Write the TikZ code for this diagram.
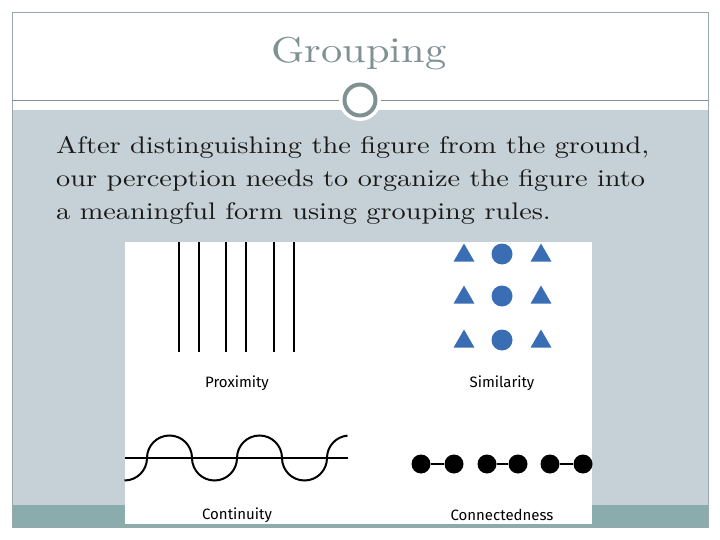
\documentclass[tikz,border=0pt]{standalone}
\usepackage{fontspec}
\newfontfamily\capfont{Fira Sans}
\newfontfamily\bodyfont{lmroman10-regular.otf}[FakeStretch=1.18]
\usetikzlibrary{positioning,shapes.geometric}

\definecolor{bandgray}{RGB}{197,209,214}
\definecolor{footteal}{RGB}{138,172,172}
\definecolor{titlegray}{RGB}{127,145,147}
\definecolor{shapeblue}{RGB}{58,110,180}

\begin{document}
\begin{tikzpicture}[
  x=1pt,y=-1pt,
  every node/.style={inner sep=0pt},
  caption/.style={font=\capfont\fontsize{15}{17}\selectfont},
  bodyline/.style={anchor=base west,text=black!90,
                   font=\bodyfont\fontsize{24}{28}\selectfont},
  tri/.style={regular polygon,regular polygon sides=3,fill=shapeblue,
              minimum size=24pt},
  blob/.style={circle,fill=shapeblue,minimum size=21pt},
  bead/.style={circle,fill=black,minimum size=19pt},
  stroke/.style={line width=2pt,black}
]
\useasboundingbox (0,0) rectangle (720,540);
\fill[white] (0,0) rectangle (720,540);

% slide frame
\fill[bandgray] (12,110) rectangle (708,505);
\fill[footteal] (12,505) rectangle (708,527);
\draw[titlegray!80,line width=0.8pt] (12,12) rectangle (708,527);
\draw[titlegray,line width=0.8pt] (12,100) -- (708,100);
\fill[white] (360,100) circle (21);
\draw[titlegray,line width=4pt] (360,100) circle (15.5);

\node[anchor=base,text=titlegray,font=\bodyfont\fontsize{36}{40}\selectfont]
  (title) at (359,63) {Grouping};
\node[bodyline] (body1) at (56,154)
  {After distinguishing the figure from the ground,};
\node[bodyline] (body2) at (56,187)
  {our perception needs to organize the figure into};
\node[bodyline] (body3) at (56,220)
  {a meaningful form using grouping rules.};

% picture
\fill[white] (125,242) rectangle (592,524);

\foreach \x in {179,199,226,246,274,294}
  \draw[stroke] (\x,242) -- (\x,352);
\node[caption] (prox) at (237,383) {Proximity};

\foreach \r/\y in {1/254,2/296,3/340} {
  \node[tri]  (tl\r) at (464,\y+1.5) {};
  \node[blob] (cc\r) at (502,\y)     {};
  \node[tri]  (tr\r) at (541,\y+1.5) {};
}
\node[caption] (simi) at (502,383) {Similarity};

\draw[stroke] (125,458) -- (348,458);
\draw[stroke] (124.5,480.5) arc (90:0:22.5)
  arc (180:360:22.5) arc (180:0:22.5)
  arc (180:360:22.5) arc (180:0:22.5)
  arc (180:265:22.5);
\node[caption] (cont) at (237,515) {Continuity};

\foreach \i/\x in {1/421,2/454,3/487,4/518,5/550,6/583}
  \node[bead] (d\i) at (\x,464) {};
\draw[stroke] (d1) -- (d2);
\draw[stroke] (d3) -- (d4);
\draw[stroke] (d5) -- (d6);
\node[caption] (conn) at (502,515) {Connectedness};
\end{tikzpicture}
\end{document}
